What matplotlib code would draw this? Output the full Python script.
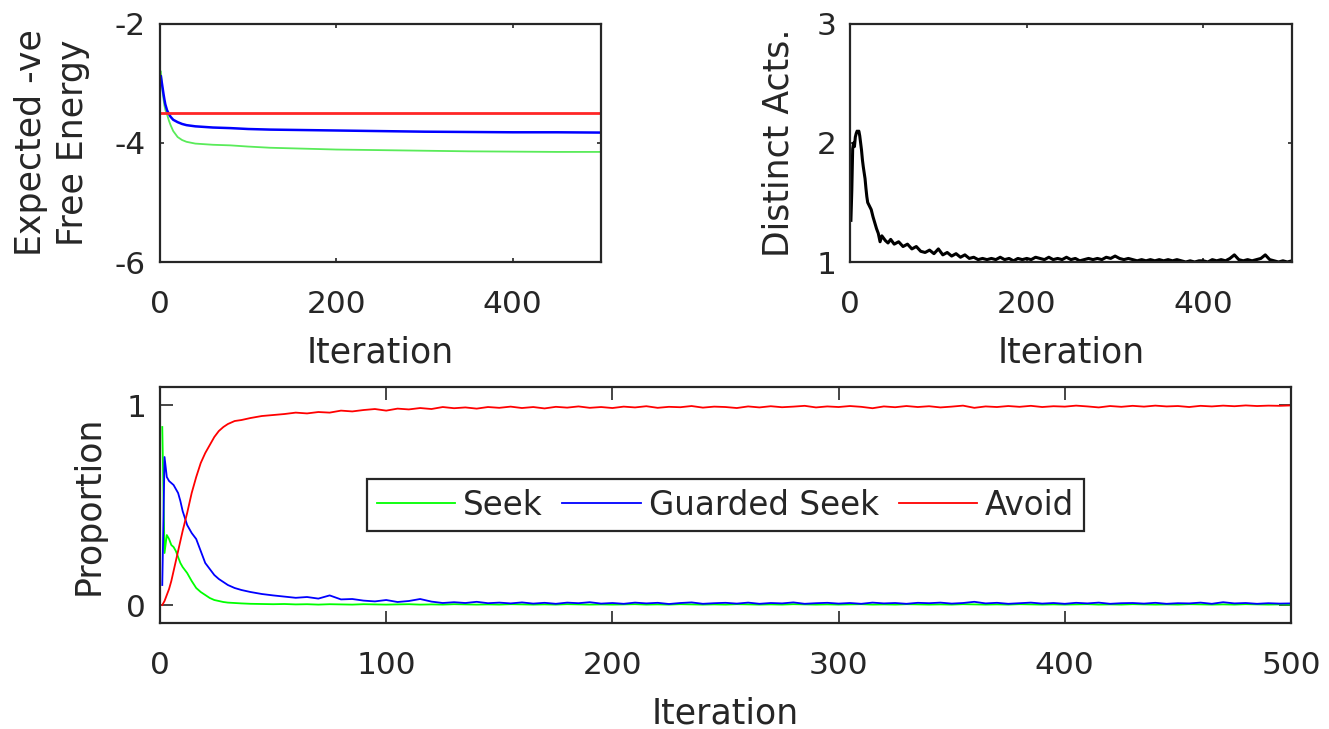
import matplotlib
matplotlib.use("Agg")
import matplotlib.pyplot as plt

# ---------------- data ----------------
# Top-left: expected -ve free energy
fe_iter = [1, 2, 3, 4, 5, 6, 8, 10, 12, 15, 20, 25, 30, 40, 50, 60, 80, 100,
           125, 150, 200, 250, 300, 350, 400, 450, 500]
fe_seek = [-2.80, -3.00, -3.15, -3.27, -3.37, -3.44, -3.52, -3.62, -3.70, -3.80,
           -3.90, -3.95, -3.98, -4.01, -4.02, -4.03, -4.04, -4.06, -4.08, -4.09,
           -4.11, -4.12, -4.13, -4.14, -4.145, -4.15, -4.15]
fe_guarded = [-2.88, -2.98, -3.08, -3.18, -3.27, -3.35, -3.45, -3.51, -3.56, -3.61,
              -3.65, -3.68, -3.70, -3.72, -3.73, -3.74, -3.75, -3.765, -3.775,
              -3.78, -3.79, -3.80, -3.81, -3.815, -3.82, -3.82, -3.825]
fe_avoid = [-3.50] * len(fe_iter)

# Top-right: distinct acts
da_iter = [1, 2, 3, 4, 5, 6, 7, 8, 9, 10, 11, 12, 13, 14, 15, 16, 17, 18, 19, 20,
           22, 24, 26, 28, 30, 32, 34, 36, 38, 40, 43, 46,
           50, 55, 60, 65, 70, 75, 80, 85, 90, 95, 100, 105, 110, 115, 120, 125,
           130, 135, 140, 145, 150, 155, 160, 165, 170, 175, 180, 185, 190, 195,
           200, 205, 210, 215, 220, 225, 230, 235, 240, 245, 250, 255, 260, 265,
           270, 275, 280, 285, 290, 295, 300, 305, 310, 315, 320, 325, 330, 335,
           340, 345, 350, 355, 360, 365, 370, 375, 380, 385, 390, 395, 400, 405,
           410, 415, 420, 425, 430, 435, 440, 445, 450, 455, 460, 465, 470, 475,
           480, 485, 490, 495, 500]
da_vals = [1.35, 1.60, 1.95, 2.00, 1.97, 2.05, 2.08, 2.10, 2.09, 2.10, 2.06, 2.00,
           1.94, 1.86, 1.80, 1.75, 1.70, 1.62, 1.55, 1.50,
           1.47, 1.44, 1.38, 1.33, 1.28, 1.24, 1.17, 1.22, 1.20, 1.18, 1.16, 1.19,
           1.15, 1.17, 1.13, 1.15, 1.11, 1.13, 1.09, 1.08, 1.10, 1.07, 1.11, 1.06,
           1.08, 1.05, 1.07, 1.04, 1.06, 1.03, 1.04, 1.02, 1.03, 1.02, 1.03, 1.02,
           1.04, 1.02, 1.03, 1.01, 1.03, 1.02, 1.03, 1.02, 1.04, 1.03, 1.02, 1.04,
           1.02, 1.03, 1.02, 1.04, 1.02, 1.03, 1.01, 1.02, 1.03, 1.02, 1.03, 1.02,
           1.04, 1.03, 1.05, 1.03, 1.02, 1.03, 1.02, 1.01, 1.02, 1.01, 1.02, 1.01,
           1.02, 1.01, 1.02, 1.01, 1.02, 1.01, 1.00, 1.01, 1.00, 1.01, 1.01, 1.00,
           1.02, 1.01, 1.02, 1.01, 1.03, 1.06, 1.02, 1.01, 1.02, 1.01, 1.02, 1.03,
           1.06, 1.02, 1.01, 1.00, 1.01, 1.00, 1.01]

# Bottom: proportions
pr_iter = [1, 2, 3, 4, 5, 6, 7, 8, 9, 10, 12, 14, 16, 18, 20, 22, 24, 26, 28, 30,
           33, 36, 40, 45,
           50, 55, 60, 65, 70, 75, 80, 85, 90, 95, 100, 105, 110, 115, 120, 125,
           130, 135, 140, 145, 150, 155, 160, 165, 170, 175, 180, 185, 190, 195,
           200, 205, 210, 215, 220, 225, 230, 235, 240, 245, 250, 255, 260, 265,
           270, 275, 280, 285, 290, 295, 300, 305, 310, 315, 320, 325, 330, 335,
           340, 345, 350, 355, 360, 365, 370, 375, 380, 385, 390, 395, 400, 405,
           410, 415, 420, 425, 430, 435, 440, 445, 450, 455, 460, 465, 470, 475,
           480, 485, 490, 495, 500]
pr_seek = [0.89, 0.26, 0.35, 0.33, 0.30, 0.29, 0.27, 0.24, 0.21, 0.19, 0.16, 0.12,
           0.085, 0.065, 0.05, 0.035, 0.025, 0.02, 0.015, 0.012, 0.010, 0.008,
           0.006, 0.005,
           0.004, 0.005, 0.003, 0.004, 0.002, 0.004, 0.003, 0.002, 0.004, 0.003,
           0.002, 0.003, 0.004, 0.002, 0.003, 0.002, 0.004, 0.003, 0.002, 0.003,
           0.002, 0.004, 0.003, 0.002, 0.003, 0.002, 0.004, 0.003, 0.002, 0.003,
           0.002, 0.003, 0.004, 0.002, 0.003, 0.002, 0.004, 0.003, 0.002, 0.003,
           0.002, 0.004, 0.003, 0.002, 0.003, 0.002, 0.004, 0.003, 0.002, 0.003,
           0.002, 0.003, 0.004, 0.002, 0.003, 0.002, 0.004, 0.003, 0.002, 0.003,
           0.002, 0.004, 0.003, 0.002, 0.003, 0.002, 0.004, 0.003, 0.002, 0.003,
           0.002, 0.003, 0.004, 0.002, 0.003, 0.002, 0.004, 0.003, 0.002, 0.003,
           0.002, 0.004, 0.003, 0.002, 0.003, 0.002, 0.004, 0.003, 0.002, 0.003,
           0.002]
pr_guarded = [0.10, 0.74, 0.64, 0.62, 0.61, 0.60, 0.58, 0.56, 0.52, 0.47, 0.40,
              0.36, 0.33, 0.27, 0.21, 0.18, 0.15, 0.13, 0.115, 0.10, 0.085, 0.075,
              0.065, 0.055,
              0.048, 0.042, 0.036, 0.040, 0.032, 0.048, 0.028, 0.030, 0.022, 0.018,
              0.025, 0.015, 0.020, 0.030, 0.017, 0.010, 0.014, 0.010, 0.016, 0.009,
              0.012, 0.008, 0.013, 0.007, 0.011, 0.006, 0.012, 0.009, 0.014, 0.007,
              0.010, 0.006, 0.012, 0.008, 0.011, 0.005, 0.010, 0.013, 0.006, 0.009,
              0.011, 0.007, 0.012, 0.006, 0.010, 0.008, 0.013, 0.006, 0.009, 0.011,
              0.007, 0.010, 0.006, 0.012, 0.008, 0.010, 0.006, 0.011, 0.009, 0.012,
              0.007, 0.010, 0.016, 0.008, 0.011, 0.006, 0.009, 0.012, 0.007, 0.010,
              0.006, 0.011, 0.008, 0.012, 0.006, 0.009, 0.010, 0.007, 0.011, 0.006,
              0.009, 0.008, 0.012, 0.006, 0.014, 0.008, 0.010, 0.006, 0.009, 0.007,
              0.008]
pr_avoid = [0.00, 0.02, 0.05, 0.08, 0.12, 0.17, 0.22, 0.27, 0.32, 0.37, 0.46, 0.56,
            0.64, 0.71, 0.76, 0.80, 0.84, 0.87, 0.89, 0.905, 0.92, 0.925, 0.935,
            0.945,
            0.950, 0.955, 0.962, 0.958, 0.965, 0.962, 0.972, 0.968, 0.975, 0.980,
            0.972, 0.982, 0.978, 0.985, 0.980, 0.990, 0.984, 0.988, 0.982, 0.990,
            0.986, 0.992, 0.985, 0.990, 0.983, 0.991, 0.987, 0.993, 0.986, 0.990,
            0.985, 0.992, 0.988, 0.994, 0.986, 0.991, 0.989, 0.995, 0.987, 0.992,
            0.990, 0.985, 0.993, 0.988, 0.994, 0.989, 0.992, 0.996, 0.988, 0.993,
            0.990, 0.995, 0.991, 0.984, 0.993, 0.989, 0.995, 0.990, 0.994, 0.988,
            0.992, 0.997, 0.986, 0.993, 0.990, 0.995, 0.991, 0.996, 0.990, 0.994,
            0.992, 0.997, 0.993, 0.988, 0.995, 0.991, 0.996, 0.992, 0.997, 0.993,
            0.995, 0.990, 0.996, 0.993, 0.997, 0.994, 0.998, 0.995, 0.997, 0.996,
            0.998]

legend_labels = ["Seek", "Guarded Seek", "Avoid"]
xticks_top = [0, 200, 400]
xticks_bottom = [0, 100, 200, 300, 400, 500]

# ---------------- style ----------------
DARK = "#262626"
plt.rcParams["font.family"] = ["DejaVu Sans"]
plt.rcParams["axes.unicode_minus"] = False
TICK_FS = 22.5
LABEL_FS = 25
LEG_FS = 23.5

fig = plt.figure(figsize=(13.29, 7.29), dpi=100)

def style(ax, ticklen):
    for s in ax.spines.values():
        s.set_color(DARK)
        s.set_linewidth(1.6)
    ax.tick_params(direction="in", top=True, right=True, length=ticklen,
                   width=1.2, color=DARK, labelcolor=DARK, labelsize=TICK_FS,
                   pad=10)
    ax.tick_params(axis="x", pad=20)

# Top-left
ax1 = fig.add_axes([0.1204, 0.6406, 0.3318, 0.3265])
ax1.plot(fe_iter, fe_seek, color=(0.35, 0.92, 0.35), lw=1.3)
ax1.plot(fe_iter, fe_guarded, color=(0, 0, 1), lw=1.8)
ax1.plot(fe_iter, fe_avoid, color=(1, 0.15, 0.15), lw=2.0)
ax1.set_xlim(0, 500)
ax1.set_ylim(-6, -2)
ax1.set_xticks(xticks_top)
ax1.set_yticks([-6, -4, -2])
style(ax1, 3)
ax1.set_xlabel("Iteration", fontsize=LABEL_FS, color=DARK, labelpad=12)
ax1.set_ylabel("Expected -ve\nFree Energy", fontsize=LABEL_FS, color=DARK,
               labelpad=18, linespacing=1.3)

# Top-right
ax2 = fig.add_axes([0.6396, 0.6406, 0.3324, 0.3265])
ax2.plot(da_iter, da_vals, color="black", lw=2.2)
ax2.set_xlim(0, 500)
ax2.set_ylim(1, 3)
ax2.set_xticks(xticks_top)
ax2.set_yticks([1, 2, 3])
style(ax2, 3)
ax2.set_xlabel("Iteration", fontsize=LABEL_FS, color=DARK, labelpad=12)
ax2.set_ylabel("Distinct Acts.", fontsize=LABEL_FS, color=DARK, labelpad=15)

# Bottom
ax3 = fig.add_axes([0.1204, 0.1454, 0.851, 0.3237])
l1, = ax3.plot(pr_iter, pr_seek, color=(0, 1, 0), lw=1.3)
l2, = ax3.plot(pr_iter, pr_guarded, color=(0, 0, 1), lw=1.3)
l3, = ax3.plot(pr_iter, pr_avoid, color=(1, 0, 0), lw=1.3)
ax3.set_xlim(0, 500)
ax3.set_ylim(-0.09, 1.09)
ax3.set_xticks(xticks_bottom)
ax3.set_yticks([0, 1])
style(ax3, 9)
ax3.set_xlabel("Iteration", fontsize=LABEL_FS, color=DARK, labelpad=12)
ax3.set_ylabel("Proportion", fontsize=LABEL_FS, color=DARK, labelpad=15)
leg = ax3.legend([l1, l2, l3], legend_labels, loc="center", ncol=3,
                 fontsize=LEG_FS, fancybox=False, framealpha=1,
                 edgecolor=DARK, handlelength=2.4, handletextpad=0.25,
                 columnspacing=0.6, borderpad=0.3, borderaxespad=0)
leg.get_frame().set_linewidth(1.6)
for t in leg.get_texts():
    t.set_color(DARK)

fig.savefig("out.png", dpi=100)
